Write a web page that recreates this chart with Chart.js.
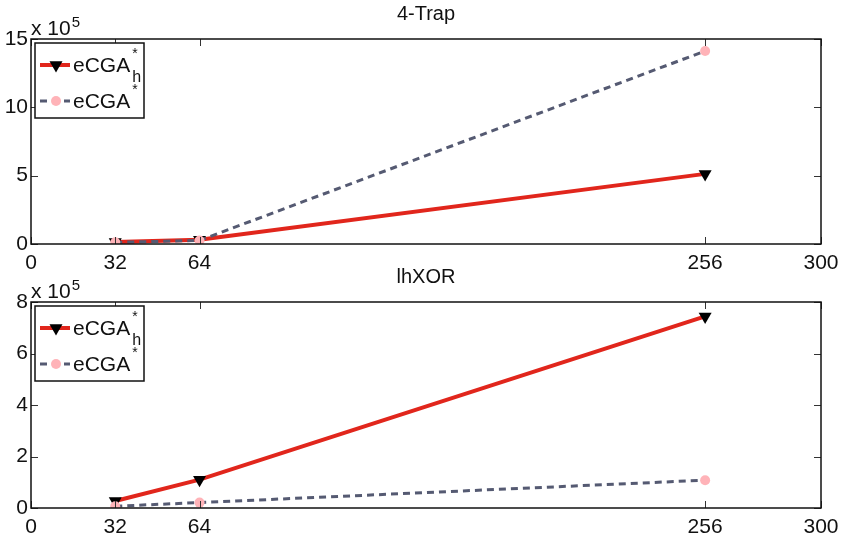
<!DOCTYPE html>
<html>
<head>
<meta charset="utf-8">
<title>eCGA scaling</title>
<script src="https://cdn.jsdelivr.net/npm/chart.js@4/dist/chart.umd.min.js"></script>
<style>
  html, body { margin: 0; padding: 0; background: #fff; }
  #wrap { position: relative; width: 842px; height: 534px; }
  #wrap canvas { position: absolute; left: 0; top: 0; }
</style>
</head>
<body>
<div id="wrap">
  <canvas id="trapChart" width="842" height="534"></canvas>
  <canvas id="xorChart" width="842" height="534"></canvas>
</div>
<script>
// Problem sizes and tick positions
const sizes = [32, 64, 256];
const xTicks = [0, 32, 64, 256, 300];

// 4-Trap evaluations
const trapHier = [14000, 31000, 513000];   // eCGA_h*
const trapBase = [12000, 26000, 1412000];  // eCGA*
const trapYTicks = [0, 500000, 1000000, 1500000];

// lhXOR evaluations
const xorHier = [27000, 110000, 744000];
const xorBase = [7000, 21000, 108000];
const xorYTicks = [0, 200000, 400000, 600000, 800000];

const FONT = '"Liberation Sans", Arial, Helvetica, sans-serif';
const RED = "#e1261c";
const SLATE = "#555a72";
const PINK = "#ffb3b8";
const W = 842, H = 534;

// MATLAB-style frame: box, inward ticks, title, exponent and legend
const matFrame = {
  id: "matFrame",
  afterDraw(chart, args, opts) {
    const ctx = chart.ctx;
    const a = chart.chartArea;
    const xs = chart.scales.x, ys = chart.scales.y;
    ctx.save();

    // inward tick marks
    ctx.strokeStyle = "#333";
    ctx.lineWidth = 1;
    ctx.beginPath();
    xTicks.forEach(v => {
      const px = Math.round(xs.getPixelForValue(v)) + 0.5;
      ctx.moveTo(px, a.bottom); ctx.lineTo(px, a.bottom - 7);
      ctx.moveTo(px, a.top); ctx.lineTo(px, a.top + 7);
    });
    opts.yTicks.forEach(v => {
      const py = Math.round(ys.getPixelForValue(v)) + 0.5;
      ctx.moveTo(a.left, py); ctx.lineTo(a.left + 7, py);
      ctx.moveTo(a.right, py); ctx.lineTo(a.right - 7, py);
    });
    ctx.stroke();

    // axes box
    ctx.strokeStyle = "#111";
    ctx.lineWidth = 1.5;
    ctx.strokeRect(a.left, a.top, a.right - a.left, a.bottom - a.top);

    // title
    ctx.fillStyle = "#111";
    ctx.font = "20px " + FONT;
    ctx.textAlign = "center";
    ctx.textBaseline = "alphabetic";
    ctx.fillText(opts.title, (a.left + a.right) / 2, a.top - 19);

    // exponent label
    ctx.textAlign = "left";
    ctx.font = "21px " + FONT;
    ctx.fillText("x 10", a.left, a.top - 4);
    const ew = ctx.measureText("x 10").width;
    ctx.font = "15px " + FONT;
    ctx.fillText("5", a.left + ew + 1, a.top - 12);

    // legend
    const lx = a.left + 4, ly = a.top + 4;
    ctx.fillStyle = "#fff";
    ctx.fillRect(lx, ly, 109, 75);
    ctx.strokeStyle = "#111";
    ctx.lineWidth = 1.5;
    ctx.strokeRect(lx, ly, 109, 75);

    const rows = [
      { ds: chart.data.datasets[0], y: ly + 22, sub: "h" },
      { ds: chart.data.datasets[1], y: ly + 58, sub: null }
    ];
    rows.forEach(r => {
      const ds = r.ds;
      ctx.save();
      ctx.strokeStyle = ds.borderColor;
      ctx.lineWidth = ds.borderWidth;
      ctx.setLineDash(ds.borderDash || []);
      ctx.beginPath();
      ctx.moveTo(lx + 5, r.y); ctx.lineTo(lx + 35, r.y);
      ctx.stroke();
      ctx.restore();
      ctx.fillStyle = ds.pointBackgroundColor;
      ctx.beginPath();
      if (ds.pointStyle === "triangle") {
        const rr = ds.pointRadius;
        ctx.moveTo(lx + 21 - rr * 0.866, r.y - rr * 0.5);
        ctx.lineTo(lx + 21 + rr * 0.866, r.y - rr * 0.5);
        ctx.lineTo(lx + 21, r.y + rr);
      } else {
        ctx.arc(lx + 21, r.y, ds.pointRadius, 0, Math.PI * 2);
      }
      ctx.fill();

      ctx.fillStyle = "#111";
      ctx.font = "21px " + FONT;
      ctx.fillText("eCGA", lx + 38, r.y + 7);
      const tw = ctx.measureText("eCGA").width;
      ctx.font = "14px " + FONT;
      ctx.fillText("*", lx + 40 + tw, r.y - 7);
      if (r.sub) {
        ctx.font = "16px " + FONT;
        ctx.fillText(r.sub, lx + 40 + tw, r.y + 17);
      }
    });

    ctx.restore();
  }
};

function makeChart(id, title, hier, base, yMax, yStep, yTicks, top, bottom) {
  return new Chart(document.getElementById(id), {
    type: "line",
    data: {
      datasets: [
        {
          label: "eCGA_h*",
          data: sizes.map((s, i) => ({ x: s, y: hier[i] })),
          borderColor: RED,
          borderWidth: 4,
          pointStyle: "triangle",
          rotation: 180,
          pointRadius: 7.5,
          pointBackgroundColor: "#000",
          pointBorderColor: "#000",
          pointBorderWidth: 0,
          order: 1
        },
        {
          label: "eCGA*",
          data: sizes.map((s, i) => ({ x: s, y: base[i] })),
          borderColor: SLATE,
          borderWidth: 3,
          borderDash: [7, 5],
          pointStyle: "circle",
          pointRadius: 5,
          pointBackgroundColor: PINK,
          pointBorderColor: PINK,
          pointBorderWidth: 0,
          order: 0
        }
      ]
    },
    options: {
      responsive: false,
      animation: false,
      events: [],
      layout: { padding: { top: top, right: W - 821, left: 0, bottom: 0 } },
      plugins: {
        legend: { display: false },
        tooltip: { enabled: false },
        matFrame: { title: title, yTicks: yTicks }
      },
      scales: {
        x: {
          type: "linear",
          min: 0,
          max: 300,
          grid: { display: false, drawTicks: false },
          border: { display: false },
          afterBuildTicks: s => { s.ticks = xTicks.map(v => ({ value: v })); },
          afterFit: s => {
            s.height = H - bottom;
            s.paddingLeft = 0;
            s.paddingRight = 0;
          },
          ticks: {
            padding: 7,
            autoSkip: false,
            maxRotation: 0,
            color: "#111",
            font: { family: FONT, size: 21 }
          }
        },
        y: {
          min: 0,
          max: yMax,
          grid: { display: false, drawTicks: false },
          border: { display: false },
          afterBuildTicks: s => { s.ticks = yTicks.map(v => ({ value: v })); },
          afterFit: s => {
            s.width = 31;
            s.paddingTop = 0;
            s.paddingBottom = 0;
          },
          ticks: {
            padding: 3,
            stepSize: yStep,
            color: "#111",
            font: { family: FONT, size: 21 },
            callback: v => String(Math.round(v / 1e5))
          }
        }
      }
    },
    plugins: [matFrame]
  });
}

makeChart("trapChart", "4-Trap", trapHier, trapBase, 1500000, 500000, trapYTicks, 39, 244);
makeChart("xorChart", "lhXOR", xorHier, xorBase, 800000, 200000, xorYTicks, 302, 508);
</script>
</body>
</html>
